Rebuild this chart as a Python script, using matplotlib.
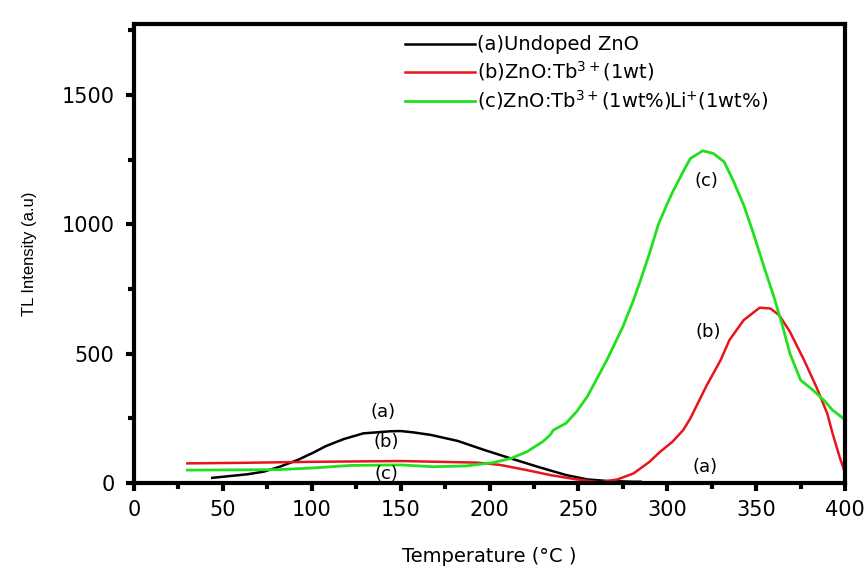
import matplotlib
matplotlib.use("Agg")
from matplotlib import pyplot as plt
from matplotlib.ticker import MultipleLocator

matplotlib.rcParams['font.family'] = ['DejaVu Sans']
matplotlib.rcParams['mathtext.fontset'] = 'dejavusans'

# (a) undoped ZnO
temp_a = [44, 54, 64, 73, 82, 92, 101, 108, 118, 129, 144, 150, 157, 167, 182, 197,
          212, 228, 243, 255, 266, 281, 285]
tl_a = [20, 27, 34, 44, 63, 89, 118, 143, 170, 192, 200, 201, 196, 186, 163, 128,
        95, 61, 31, 14, 8, 5, 5]

# (b) ZnO:Tb3+
temp_b = [30, 60, 100, 150, 193, 206, 221, 234, 249, 262, 272, 281, 290, 296, 303, 309,
          313, 322, 330, 335, 343, 352, 358, 363, 369, 377, 384, 390, 393, 397, 400]
tl_b = [76, 78, 82, 85, 79, 70, 50, 31, 14, 3, 14, 37, 82, 121, 160, 205,
        250, 375, 475, 553, 630, 678, 675, 649, 585, 475, 370, 269, 192, 100, 40]

# (c) ZnO:Tb3+ Li+
temp_c = [30, 60, 82, 100, 122, 150, 168, 187, 202, 212, 221, 230, 234, 236, 243, 249,
          255, 260, 266, 275, 281, 285, 290, 295, 300, 303, 309, 313, 320, 326, 332, 337,
          343, 348, 354, 360, 365, 369, 375, 382, 388, 393, 399]
tl_c = [50, 51, 52, 58, 68, 70, 63, 66, 79, 95, 121, 160, 185, 205, 231, 276,
        334, 398, 475, 604, 707, 785, 888, 1000, 1080, 1125, 1205, 1255, 1285, 1274, 1242, 1171,
        1075, 975, 845, 720, 604, 501, 398, 359, 321, 282, 250]

labels = ["(a)Undoped ZnO",
          r"(b)ZnO:Tb$^{3+}$(1wt)",
          r"(c)ZnO:Tb$^{3+}$(1wt%)Li$^{+}$(1wt%)"]

fig = plt.figure(figsize=(8.68, 5.69), dpi=100)
ax = fig.add_axes([0.1544, 0.1511, 0.8191, 0.8067])

ax.plot(temp_a, tl_a, color="black", linewidth=1.8, label=labels[0])
ax.plot(temp_b, tl_b, color="#e8141c", linewidth=1.8, label=labels[1])
ax.plot(temp_c, tl_c, color="#22e01e", linewidth=2.0, label=labels[2])

# curve tags
ax.text(140, 274, "(a)", fontsize=13, ha="center", va="center")
ax.text(142, 159, "(b)", fontsize=13, ha="center", va="center")
ax.text(142, 35, "(c)", fontsize=13, ha="center", va="center")
ax.text(321, 62, "(a)", fontsize=13, ha="center", va="center")
ax.text(323, 583, "(b)", fontsize=13, ha="center", va="center")
ax.text(322, 1167, "(c)", fontsize=13, ha="center", va="center")

ax.set_xlim(0, 400)
ax.set_ylim(0, 1775)
ax.xaxis.set_major_locator(MultipleLocator(50))
ax.xaxis.set_minor_locator(MultipleLocator(25))
ax.yaxis.set_major_locator(MultipleLocator(500))
ax.yaxis.set_minor_locator(MultipleLocator(250))
ax.tick_params(which="major", direction="out", length=6, width=3, labelsize=15)
ax.tick_params(axis="y", which="major", pad=8)
ax.tick_params(axis="x", which="major", pad=6)
ax.tick_params(which="minor", direction="out", length=4, width=3)
for s in ax.spines.values():
    s.set_linewidth(3)

ax.set_xlabel("Temperature (°C )", fontsize=14, labelpad=20)
ax.set_ylabel("TL Intensity (a.u)", fontsize=12, family="Liberation Sans", labelpad=18)

ax.legend(loc="upper left", bbox_to_anchor=(0.381, 0.975), frameon=False, fontsize=14,
          handlelength=3.6, handletextpad=0.1, labelspacing=0.25, borderpad=0, borderaxespad=0)

plt.savefig("out.png")
